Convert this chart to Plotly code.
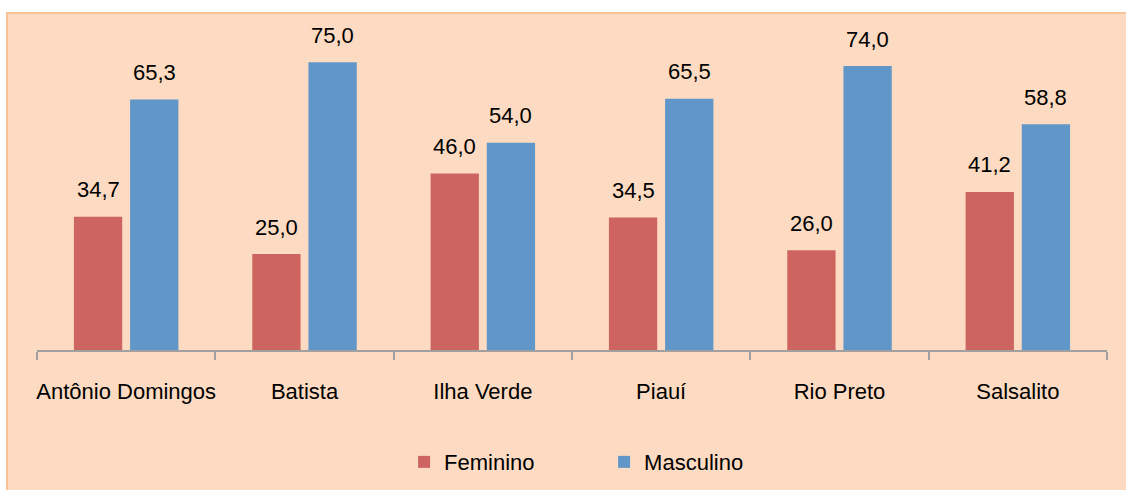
import plotly.graph_objects as go

categories = ["Antônio Domingos", "Batista", "Ilha Verde", "Piauí", "Rio Preto", "Salsalito"]
feminino = [34.7, 25.0, 46.0, 34.5, 26.0, 41.2]
masculino = [65.3, 75.0, 54.0, 65.5, 74.0, 58.8]

RED = "#CD6460"
BLUE = "#6196C9"
BG = "#FDDBC2"
FONT = "Liberation Sans, Arial, sans-serif"

def fmt(v):
    return f"{v:.1f}".replace(".", ",")

fig = go.Figure()
fig.add_trace(go.Bar(name="Feminino", x=categories, y=feminino, marker_color=RED, marker_line_width=0))
fig.add_trace(go.Bar(name="Masculino", x=categories, y=masculino, marker_color=BLUE, marker_line_width=0))

annotations = []
for c, f, m in zip(categories, feminino, masculino):
    annotations.append(dict(x=c, y=f, text=fmt(f), xref="x", yref="y", showarrow=False,
                            xshift=-28, yshift=27, yanchor="middle",
                            font=dict(family=FONT, size=22, color="black")))
    annotations.append(dict(x=c, y=m, text=fmt(m), xref="x", yref="y", showarrow=False,
                            xshift=28, yshift=27, yanchor="middle",
                            font=dict(family=FONT, size=22, color="black")))

W, H = 1126, 490
L, R, T, B = 37, 19, 43, 140
PW, PH = W - L - R, H - T - B
fig.update_layout(
    width=W, height=H,
    paper_bgcolor="white",
    plot_bgcolor="rgba(0,0,0,0)",
    barmode="group",
    bargap=0.37,
    bargroupgap=0.14,
    margin=dict(l=L, r=R, t=T, b=B, autoexpand=False),
    font=dict(family=FONT, size=22, color="black"),
    showlegend=True,
    legend=dict(orientation="h", x=0.53, xanchor="center", y=-0.365, yanchor="middle",
                font=dict(family=FONT, size=22, color="black"),
                entrywidth=155, bgcolor="rgba(0,0,0,0)"),
    annotations=annotations,
    shapes=[
        dict(type="rect", xref="paper", yref="paper",
             x0=(7 - L) / PW, x1=(W + 10 - L) / PW,
             y0=(-(B + 10)) / PH, y1=(PH + T - 13) / PH,
             fillcolor=BG, line=dict(color="#F9C395", width=2), layer="below"),
    ],
    xaxis=dict(showline=True, linecolor="#A0A0A0", linewidth=2, automargin=False,
               ticks="outside", tickson="boundaries", ticklen=8, tickcolor="#A0A0A0", tickwidth=2,
               tickangle=0, ticklabelstandoff=21, showgrid=False, zeroline=False,
               tickfont=dict(family=FONT, size=22, color="black")),
    yaxis=dict(range=[0, 80], visible=False, showgrid=False, zeroline=False, automargin=False),
)

fig.write_html("out.html", config={"displayModeBar": False},
               post_script="document.body.style.margin='0';document.body.style.overflow='hidden';")
